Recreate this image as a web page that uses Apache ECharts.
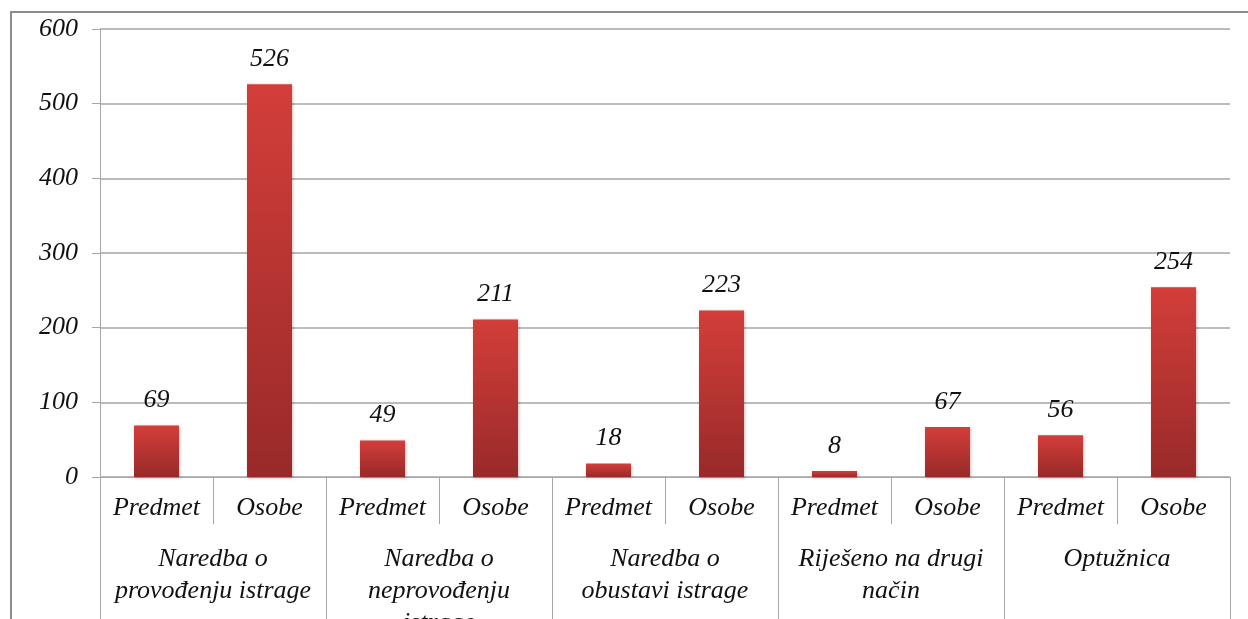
<!DOCTYPE html>
<html>
<head>
<meta charset="utf-8">
<script src="https://cdn.jsdelivr.net/npm/echarts@6/dist/echarts.min.js"></script>
<style>
  html, body { margin: 0; padding: 0; background: #fff; }
  #chart { width: 1248px; height: 619px; }
</style>
</head>
<body>
<div id="chart"></div>
<script>
  // podaci očitani sa slike
  var subLabels = ['Predmet', 'Osobe', 'Predmet', 'Osobe', 'Predmet', 'Osobe', 'Predmet', 'Osobe', 'Predmet', 'Osobe'];
  var groupLabels = [
    'Naredba o\nprovođenju istrage',
    'Naredba o\nneprovođenju\nistrage',
    'Naredba o\nobustavi istrage',
    'Riješeno na drugi\nnačin',
    'Optužnica'
  ];
  var values = [69, 526, 49, 211, 18, 223, 8, 67, 56, 254];
  var yTicks = [0, 100, 200, 300, 400, 500, 600];

  var fontFam = '"Liberation Serif", "DejaVu Serif", serif';
  var gridColor = '#a6a6a6';

  var chart = echarts.init(document.getElementById('chart'));

  var option = {
    backgroundColor: '#fff',
    animation: false,
    graphic: [
      {
        // vanjski okvir grafikona
        type: 'rect',
        shape: { x: 11, y: 12, width: 1400, height: 800 },
        style: { fill: 'none', stroke: '#8c8c8c', lineWidth: 2 },
        silent: true
      }
    ],
    grid: { left: 100, right: 18, top: 29, bottom: 142, outerBoundsMode: 'none', containLabel: false },
    xAxis: [
      {
        type: 'category',
        data: subLabels,
        position: 'bottom',
        axisLine: { show: true, lineStyle: { color: gridColor, width: 1 } },
        axisTick: { show: true, length: 47, lineStyle: { color: gridColor } },
        axisLabel: {
          interval: 0,
          margin: 18,
          fontFamily: fontFam,
          fontStyle: 'italic',
          fontSize: 26,
          color: '#111'
        }
      },
      {
        type: 'category',
        data: groupLabels,
        position: 'bottom',
        axisLine: { show: false },
        axisTick: { show: true, length: 150, lineStyle: { color: gridColor } },
        axisLabel: {
          interval: 0,
          margin: 66,
          fontFamily: fontFam,
          fontStyle: 'italic',
          fontSize: 26,
          lineHeight: 32,
          color: '#111'
        }
      }
    ],
    yAxis: {
      type: 'value',
      min: yTicks[0],
      max: yTicks[yTicks.length - 1],
      interval: 100,
      axisLine: { show: true, lineStyle: { color: gridColor } },
      axisTick: { show: true, length: 8, lineStyle: { color: gridColor } },
      splitLine: { show: true, lineStyle: { color: gridColor, width: 1.5 } },
      axisLabel: {
        margin: 22,
        fontFamily: fontFam,
        fontStyle: 'italic',
        fontSize: 26,
        color: '#111'
      }
    },
    series: [
      {
        type: 'bar',
        xAxisIndex: 0,
        data: values,
        barWidth: 45,
        itemStyle: {
          color: new echarts.graphic.LinearGradient(0, 0, 0, 1, [
            { offset: 0, color: '#d33e3a' },
            { offset: 1, color: '#982a29' }
          ]),
          shadowColor: 'rgba(0,0,0,0.25)',
          shadowBlur: 3,
          shadowOffsetX: 1,
          shadowOffsetY: 1
        },
        label: {
          show: true,
          position: 'top',
          distance: 12,
          fontFamily: fontFam,
          fontStyle: 'italic',
          fontSize: 26,
          color: '#111'
        }
      }
    ]
  };

  chart.setOption(option);
</script>
</body>
</html>
